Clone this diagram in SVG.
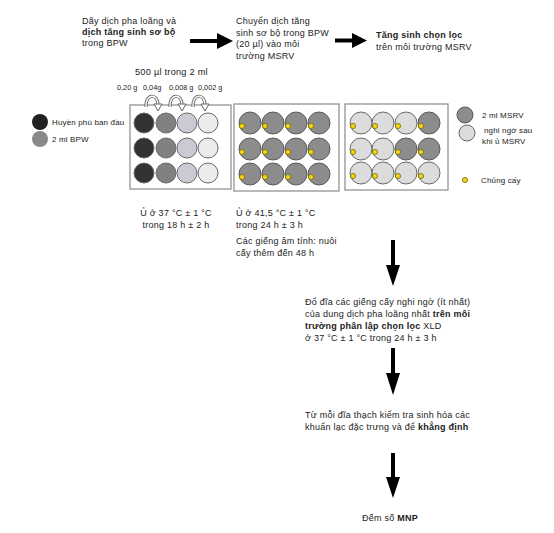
<svg xmlns="http://www.w3.org/2000/svg" width="554" height="533" viewBox="0 0 554 533">
<style>
text{font-family:"Liberation Sans",Arial,sans-serif;font-size:9px;letter-spacing:0.25px;fill:#222}
.b{font-weight:bold}
.sm{font-size:8px;letter-spacing:0.15px}
.xs{font-size:7.3px;letter-spacing:0}
.box{fill:#fff;stroke:#8a8a8a;stroke-width:1.2}
.w{stroke:#6a6a6a;stroke-width:1}
.c1{fill:#333}
.c2{fill:#808080}
.c3{fill:#c9cad3}
.c4{fill:#ececec}
.d{fill:#8c8c8c;stroke:#5a5a5a;stroke-width:1}
.l{fill:#dcdcdc;stroke:#6a6a6a;stroke-width:1}
.y{fill:#f2d21a;stroke:#7a6a00;stroke-width:0.8}
.arr{fill:#000}
.loop{fill:none;stroke:#666;stroke-width:3.2}
.loopi{fill:none;stroke:#fff;stroke-width:1.4}
</style>
<defs>
<circle id="yd" r="2.6" class="y"/>
</defs>
<rect width="554" height="533" fill="#fff"/>

<g id="step1-text">
<text x="82" y="24">Dãy dịch pha loãng và</text>
<text x="82" y="35" class="b">dịch tăng sinh sơ bộ</text>
<text x="82" y="46">trong BPW</text>
</g>
<g id="step2-text">
<text x="236" y="24">Chuyển dịch tăng</text>
<text x="236" y="36">sinh sơ bộ trong BPW</text>
<text x="236" y="47">(20 µl) vào  môi</text>
<text x="236" y="59">trường MSRV</text>
</g>
<g id="step3-text">
<text x="376" y="38" class="b">Tăng sinh chọn lọc</text>
<text x="376" y="50">trên  môi trường MSRV</text>
</g>

<g id="dilution-labels">
<text x="135" y="75" style="font-size:9.2px">500 µl trong 2 ml</text>
<text y="90" class="xs"><tspan x="117">0,20 g</tspan><tspan x="143">0,04g</tspan><tspan x="169">0,008 g</tspan><tspan x="198">0,002 g</tspan></text>
</g>

<g id="legend-left">
<circle cx="40" cy="122" r="8" fill="#222"/>
<text x="52" y="125" class="sm">Huyền phù ban đầu</text>
<circle cx="40" cy="139" r="8" fill="#888"/>
<text x="52" y="142" class="sm">2 ml BPW</text>
</g>

<g id="plate1">
<rect x="130" y="105" width="101" height="84" class="box"/>
<g class="w">
<circle cx="144" cy="123" r="10" class="c1"/><circle cx="166" cy="123" r="10" class="c2"/><circle cx="187" cy="123" r="10" class="c3"/><circle cx="208" cy="123" r="10" class="c4"/>
<circle cx="144" cy="148" r="10" class="c1"/><circle cx="166" cy="148" r="10" class="c2"/><circle cx="187" cy="148" r="10" class="c3"/><circle cx="208" cy="148" r="10" class="c4"/>
<circle cx="144" cy="173" r="10" class="c1"/><circle cx="166" cy="173" r="10" class="c2"/><circle cx="187" cy="173" r="10" class="c3"/><circle cx="208" cy="173" r="10" class="c4"/>
</g>
</g>

<g id="transfer-loops">
<path class="loop" d="M146,107 C145,93 158,93 158,105"/>
<path class="loopi" d="M146,107 C145,93 158,93 158,105"/>
<path d="M154,104 L162,104 L158,111 Z" fill="#fff" stroke="#666" stroke-width="1"/>
<path class="loop" d="M170,107 C169,93 182,93 182,105"/>
<path class="loopi" d="M170,107 C169,93 182,93 182,105"/>
<path d="M178,104 L186,104 L182,111 Z" fill="#fff" stroke="#666" stroke-width="1"/>
<path class="loop" d="M193,107 C192,93 205,93 205,105"/>
<path class="loopi" d="M193,107 C192,93 205,93 205,105"/>
<path d="M201,104 L209,104 L205,111 Z" fill="#fff" stroke="#666" stroke-width="1"/>
</g>

<g id="plate2">
<rect x="234" y="104" width="105" height="87" class="box"/>
<circle cx="250" cy="123" r="11" class="d"/><circle cx="273" cy="123" r="11" class="d"/><circle cx="296" cy="123" r="11" class="d"/><circle cx="319" cy="123" r="11" class="d"/>
<circle cx="250" cy="149" r="11" class="d"/><circle cx="273" cy="149" r="11" class="d"/><circle cx="296" cy="149" r="11" class="d"/><circle cx="319" cy="149" r="11" class="d"/>
<circle cx="250" cy="174" r="11" class="d"/><circle cx="273" cy="174" r="11" class="d"/><circle cx="296" cy="174" r="11" class="d"/><circle cx="319" cy="174" r="11" class="d"/>
<use href="#yd" x="242" y="126"/><use href="#yd" x="265" y="126"/><use href="#yd" x="288" y="126"/><use href="#yd" x="311" y="126"/>
<use href="#yd" x="242" y="152"/><use href="#yd" x="265" y="152"/><use href="#yd" x="288" y="152"/><use href="#yd" x="311" y="152"/>
<use href="#yd" x="242" y="177"/><use href="#yd" x="265" y="177"/><use href="#yd" x="288" y="177"/><use href="#yd" x="311" y="177"/>
</g>

<g id="plate3">
<rect x="345" y="104" width="103" height="86" class="box"/>
<circle cx="361" cy="123" r="11" class="l"/><circle cx="383" cy="123" r="11" class="l"/><circle cx="406" cy="123" r="11" class="l"/><circle cx="429" cy="123" r="11" class="d"/>
<circle cx="361" cy="149" r="11" class="l"/><circle cx="383" cy="149" r="11" class="l"/><circle cx="406" cy="149" r="11" class="d"/><circle cx="429" cy="149" r="11" class="d"/>
<circle cx="361" cy="173" r="11" class="l"/><circle cx="383" cy="173" r="11" class="l"/><circle cx="406" cy="173" r="11" class="l"/><circle cx="429" cy="173" r="11" class="l"/>
<use href="#yd" x="353" y="126"/><use href="#yd" x="375" y="126"/><use href="#yd" x="398" y="126"/><use href="#yd" x="421" y="126"/>
<use href="#yd" x="353" y="152"/><use href="#yd" x="375" y="152"/><use href="#yd" x="398" y="152"/><use href="#yd" x="421" y="152"/>
<use href="#yd" x="353" y="176"/><use href="#yd" x="375" y="176"/><use href="#yd" x="398" y="176"/><use href="#yd" x="421" y="176"/>
</g>

<g id="legend-right">
<circle cx="465" cy="115" r="8" class="d"/>
<text x="482" y="118" class="sm">2 ml MSRV</text>
<circle cx="467" cy="133" r="8" class="l"/>
<text x="484" y="133" class="sm">nghi ngờ sau</text>
<text x="482" y="144" class="sm">khi ủ MSRV</text>
<use href="#yd" x="465" y="180"/>
<text x="481" y="183" class="sm">Chủng cấy</text>
</g>

<g id="incubation1">
<text x="176" y="216" text-anchor="middle">Ủ ở 37 °C ± 1 °C</text>
<text x="176" y="228" text-anchor="middle">trong 18 h ± 2 h</text>
</g>
<g id="incubation2">
<text x="236" y="216">Ủ ở 41,5 °C ± 1 °C</text>
<text x="236" y="228">trong 24 h ± 3 h</text>
<text x="236" y="244">Các giếng âm tính: nuôi</text>
<text x="236" y="256">cấy thêm đến 48 h</text>
</g>

<g id="step4-text">
<text x="305" y="305">Đổ đĩa các giếng cấy nghi ngờ (ít nhất)</text>
<text x="305" y="317">của dung dịch pha loãng nhất <tspan class="b">trên môi</tspan></text>
<text x="305" y="329"><tspan class="b">trường phân lập chọn lọc</tspan> XLD</text>
<text x="305" y="341">ở 37 °C ± 1 °C trong 24 h ± 3 h</text>
</g>
<g id="step5-text">
<text x="305" y="418">Từ mỗi đĩa thạch kiểm tra sinh hóa các</text>
<text x="305" y="430">khuẩn lạc đặc trưng và để <tspan class="b">khẳng định</tspan></text>
</g>
<g id="step6-text">
<text x="362" y="521">Đếm số <tspan class="b">MNP</tspan></text>
</g>

<g id="connectors">
<path class="arr" d="M190,39 L217,39 L217,33 L233,41 L217,49 L217,43 L190,43 Z"/>
<path class="arr" d="M335,38.5 L352,38.5 L352,33 L367,40.5 L352,48 L352,42.5 L335,42.5 Z"/>
<path class="arr" d="M391,240 L395,240 L395,265 L400,265 L393,286 L386,265 L391,265 Z"/>
<path class="arr" d="M391,348 L395,348 L395,373 L400,373 L393,395 L386,373 L391,373 Z"/>
<path class="arr" d="M391,453 L395,453 L395,477 L400,477 L393,498 L386,477 L391,477 Z"/>
</g>
</svg>
